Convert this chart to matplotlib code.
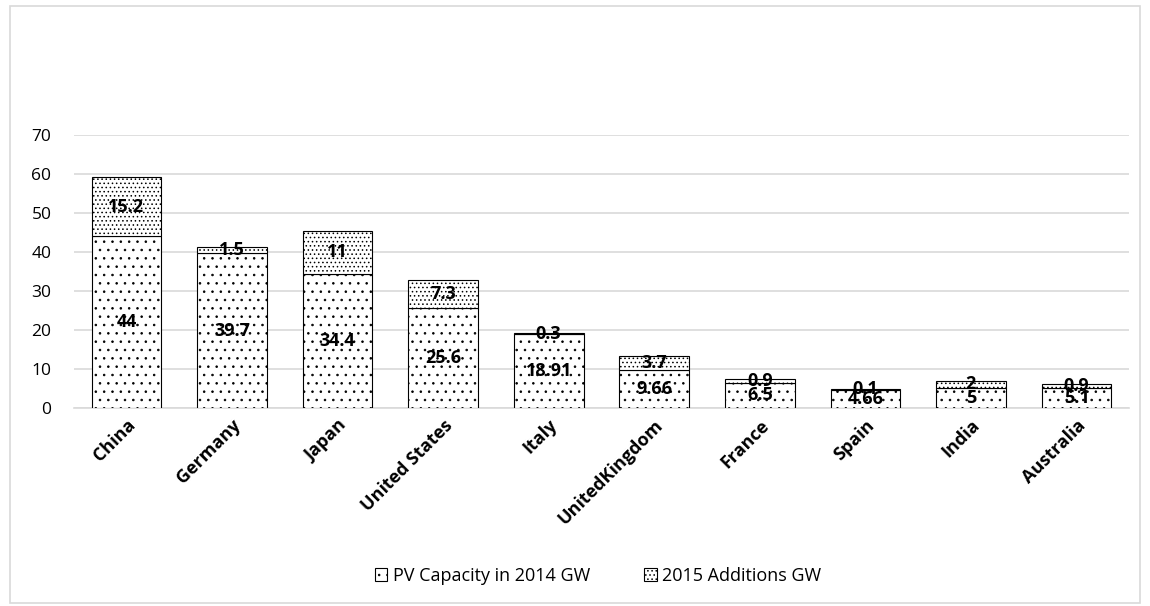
import matplotlib
matplotlib.use('Agg')
import matplotlib.pyplot as plt
import numpy as np
from matplotlib.patches import Rectangle

plt.rcParams['font.family'] = ['Open Sans', 'DejaVu Sans']
plt.rcParams['hatch.linewidth'] = 0.6

# Data
negara = ['China', 'Germany', 'Japan', 'United States', 'Italy',
          'UnitedKingdom', 'France', 'Spain', 'India', 'Australia']
kapasitas_2014 = [44, 39.7, 34.4, 25.6, 18.91, 9.66, 6.5, 4.66, 5, 5.1]
tambahan_2015 = [15.2, 1.5, 11, 7.3, 0.3, 3.7, 0.9, 0.1, 2, 0.9]
label_2014 = ['44', '39.7', '34.4', '25.6', '18.91', '9.66', '6.5', '4.66', '5', '5.1']
label_2015 = ['15.2', '1.5', '11', '7.3', '0.3', '3.7', '0.9', '0.1', '2', '0.9']
y_ticks = [0, 10, 20, 30, 40, 50, 60, 70]

fig = plt.figure(figsize=(11.5, 6.06), dpi=100)
ax = fig.add_axes([0.064, 0.327, 0.918, 0.45])

x = np.arange(len(negara))
lebar = 0.66

bar1 = ax.bar(x, kapasitas_2014, lebar, color='white', edgecolor='black',
              linewidth=0.8, hatch='..', label='PV Capacity in 2014 GW', zorder=3)
bar2 = ax.bar(x, tambahan_2015, lebar, bottom=kapasitas_2014, color='white',
              edgecolor='black', linewidth=0.8, hatch='....',
              label='2015 Additions GW', zorder=3)

# label angka di tengah segmen
for i in range(len(negara)):
    ax.text(x[i], kapasitas_2014[i] / 2, label_2014[i], ha='center', va='center',
            fontsize=13, fontweight='bold', zorder=5)
    ax.text(x[i], kapasitas_2014[i] + tambahan_2015[i] / 2, label_2015[i],
            ha='center', va='center', fontsize=13, fontweight='bold', zorder=5)

ax.set_xlim(-0.5, len(negara) - 0.5)
ax.set_ylim(0, 70)
ax.set_yticks(y_ticks)
ax.tick_params(axis='y', length=0, labelsize=12.5, pad=16)
ax.tick_params(axis='x', length=0, labelsize=13, pad=6)
ax.set_xticks(x)
ax.set_xticklabels(negara, rotation=45, ha='right', rotation_mode='anchor',
                   fontweight='bold')
ax.yaxis.grid(True, color='#d9d9d9', linewidth=1.2, zorder=0)
for s in ['top', 'right', 'left']:
    ax.spines[s].set_visible(False)
ax.spines['bottom'].set_color('#d9d9d9')
ax.spines['bottom'].set_linewidth(1.2)

leg = fig.legend(handles=[bar1, bar2], loc='center', bbox_to_anchor=(0.52, 0.05),
                 ncol=2, frameon=False, fontsize=13, handlelength=0.7,
                 handleheight=0.7, columnspacing=3.0, handletextpad=0.3)

# bingkai luar
fig.patches.append(Rectangle((0.009, 0.005), 0.982, 0.985, transform=fig.transFigure,
                             fill=False, edgecolor='#d9d9d9', linewidth=1.2))

fig.savefig('out.png', dpi=100)
